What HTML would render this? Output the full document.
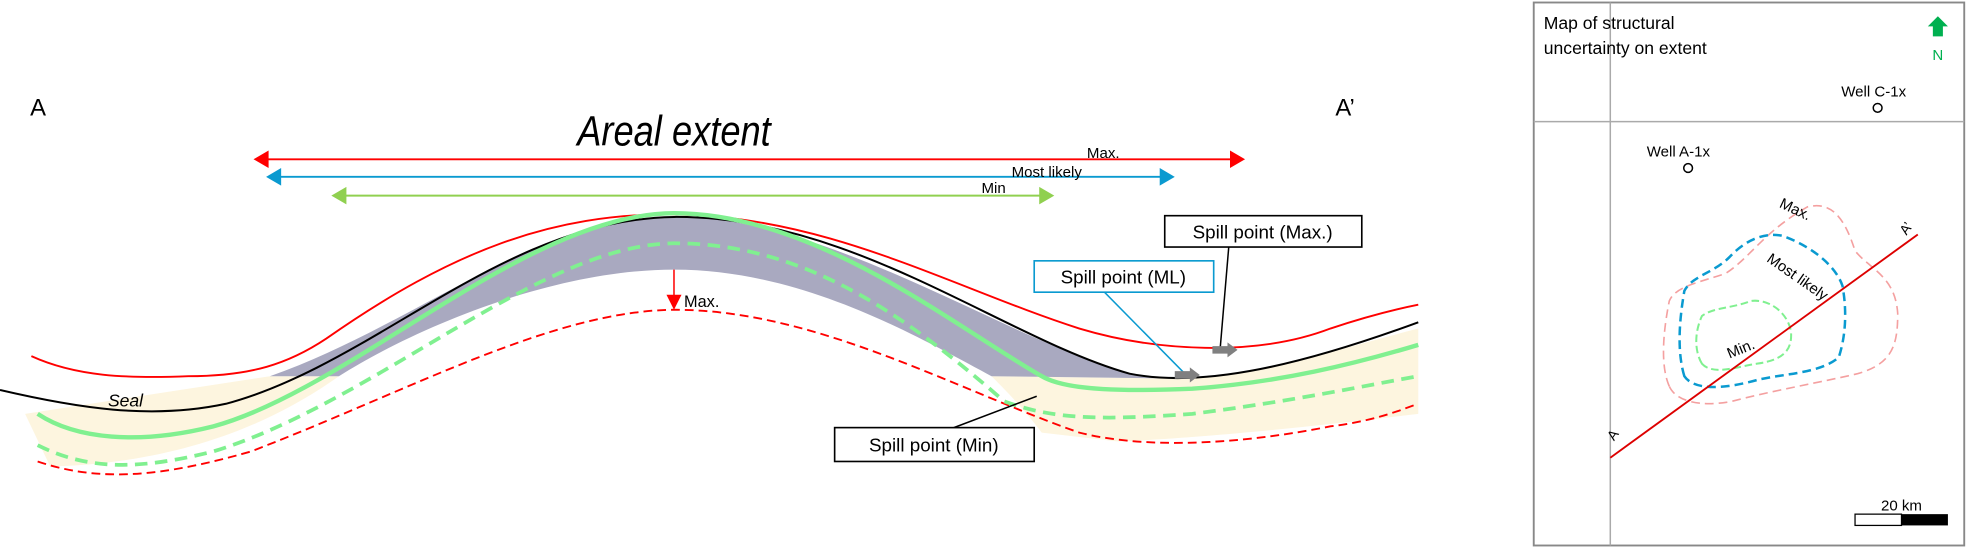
<!DOCTYPE html>
<html><head><meta charset="utf-8"><style>
html,body{margin:0;padding:0;background:#fff;}
svg{display:block;}
text{font-family:"Liberation Sans",sans-serif;}
</style></head><body>
<svg width="1968" height="548" viewBox="0 0 1568 437" preserveAspectRatio="none" xmlns="http://www.w3.org/2000/svg">
<defs>
<marker id="hr" markerWidth="8" markerHeight="8" refX="6" refY="4" orient="auto-start-reverse" markerUnits="userSpaceOnUse"><path d="M0,0 L8,4 L0,8 z" fill="#f00"/></marker>
</defs>
<text x="24" y="92" font-size="19">A</text>
<text x="1064" y="92" font-size="19">A’</text>
<text x="537" y="116" font-size="34" font-style="italic" text-anchor="middle" transform="translate(537,0) scale(0.85,1) translate(-537,0)">Areal extent</text>

<!-- fills -->
<path d="M20,330 L215,300 L270,300 C200,350 120,370 40,372 Z" fill="#fdf5df"/>
<path d="M790,300 L940,302 C1000,300 1060,280 1130,262 L1130,330 C1050,340 950,350 890,352 L830,345 C815,325 800,310 790,300 Z" fill="#fdf5df"/>
<path d="M215,300 C330,260 420,176 537,173 C660,172 800,270 900,298 C920,302 935,302 945,302 L790,300 C730,268 640,215 537,215 C440,215 330,262 270,300 Z" fill="#a9a9c0"/>

<!-- lines -->
<path d="M25,284 C60,300 100,302 150,300 C200,300 230,290 260,270 C360,200 440,170 537,171 C660,172 760,230 860,262 C920,280 1000,285 1060,262 C1090,252 1110,247 1130,243" fill="none" stroke="#f00" stroke-width="1.5"/>
<path d="M30,368 C80,385 130,380 200,360 C330,310 440,248 537,247 C650,247 760,310 860,345 C920,360 1000,352 1060,340 C1100,335 1120,325 1130,322" fill="none" stroke="#f00" stroke-width="1.5" stroke-dasharray="7,4"/>
<path d="M30,355 C70,375 110,375 170,360 C300,320 430,195 537,194 C640,194 720,250 800,320 C840,335 880,335 950,330 C1030,320 1090,307 1130,300" fill="none" stroke="#80f090" stroke-width="3" stroke-dasharray="10,6"/>
<path d="M0,311 C60,325 120,335 180,322 C300,290 400,175 537,173 C680,172 800,270 900,298 C960,310 1040,290 1130,257" fill="none" stroke="#000" stroke-width="1.6"/>
<path d="M30,330 C60,350 110,355 170,340 C280,310 420,170 537,170 C650,170 760,260 830,300 C850,312 900,312 950,310 C1020,305 1080,290 1130,275" fill="none" stroke="#80f090" stroke-width="3.5"/>

<!-- extent arrows -->
<line x1="210" y1="127" x2="984" y2="127" stroke="#f00" stroke-width="1.5"/>
<path d="M202,127 L214,120 L214,134 Z M992,127 L980,120 L980,134 Z" fill="#f00"/>
<line x1="220" y1="141" x2="928" y2="141" stroke="#0a9ad0" stroke-width="1.5"/>
<path d="M212,141 L224,134 L224,148 Z M936,141 L924,134 L924,148 Z" fill="#0a9ad0"/>
<line x1="272" y1="156" x2="832" y2="156" stroke="#90d050" stroke-width="1.5"/>
<path d="M264,156 L276,149 L276,163 Z M840,156 L828,149 L828,163 Z" fill="#90d050"/>
<text x="866" y="126" font-size="12">Max.</text>
<text x="806" y="141" font-size="12">Most likely</text>
<text x="782" y="154" font-size="12">Min</text>

<line x1="537" y1="215" x2="537" y2="238" stroke="#f00" stroke-width="1.2"/>
<path d="M531,235 L543,235 L537,247 Z" fill="#f00"/>
<text x="545" y="245" font-size="13">Max.</text>
<text x="86" y="324" font-size="14" font-style="italic">Seal</text>

<!-- spill boxes -->
<line x1="979" y1="197" x2="972" y2="280" stroke="#000" stroke-width="1.2"/>
<rect x="928" y="172" width="157" height="25" fill="#fff" stroke="#000" stroke-width="1.3"/>
<text x="1006" y="190" font-size="15" text-anchor="middle">Spill point (Max.)</text>
<line x1="880" y1="233" x2="945" y2="299" stroke="#0a9ad0" stroke-width="1.2"/>
<rect x="824" y="208" width="143" height="25" fill="#fff" stroke="#0a9ad0" stroke-width="1.3"/>
<text x="895" y="226" font-size="15" text-anchor="middle">Spill point (ML)</text>
<line x1="760" y1="341" x2="826" y2="316" stroke="#000" stroke-width="1.2"/>
<rect x="665" y="341" width="159" height="27" fill="#fff" stroke="#000" stroke-width="1.3"/>
<text x="744" y="360" font-size="15" text-anchor="middle">Spill point (Min)</text>
<path d="M966,276 L978,276 L978,273 L986,279 L978,285 L978,282 L966,282 Z" fill="#808080"/>
<path d="M936,296 L948,296 L948,293 L956,299 L948,305 L948,302 L936,302 Z" fill="#808080"/>

<!-- map panel -->
<rect x="1222" y="2" width="343" height="433" fill="#fff" stroke="#888" stroke-width="1.5"/>
<line x1="1222" y1="97" x2="1565" y2="97" stroke="#aaa" stroke-width="1.2"/>
<line x1="1283" y1="2" x2="1283" y2="435" stroke="#aaa" stroke-width="1.2"/>
<text x="1230" y="23" font-size="14">Map of structural</text>
<text x="1230" y="43" font-size="14">uncertainty on extent</text>
<path d="M1544,13 L1552,21 L1548,21 L1548,29 L1540,29 L1540,21 L1536,21 Z" fill="#00b050"/>
<text x="1544" y="48" font-size="12" fill="#00b050" text-anchor="middle">N</text>
<text x="1467" y="77" font-size="12">Well C-1x</text>
<circle cx="1496" cy="86" r="3.5" fill="none" stroke="#000" stroke-width="1.2"/>
<text x="1312" y="125" font-size="12">Well A-1x</text>
<circle cx="1345" cy="134" r="3.5" fill="none" stroke="#000" stroke-width="1.2"/>

<path d="M1330,308 C1322,290 1326,260 1330,240 C1335,228 1355,225 1375,218 C1395,205 1405,185 1440,165 C1460,160 1470,175 1478,200 C1490,215 1510,220 1512,250 C1512,275 1508,290 1480,298 C1450,305 1410,312 1380,320 C1355,325 1335,320 1330,308 Z" fill="none" stroke="#f4a0a0" stroke-width="1.3" stroke-dasharray="7,4"/>
<path d="M1342,300 C1336,280 1338,255 1342,232 C1348,220 1365,218 1378,205 C1390,192 1405,185 1420,188 C1440,195 1462,210 1468,228 C1472,250 1470,270 1465,285 C1450,298 1420,298 1400,303 C1375,310 1350,312 1342,300 Z" fill="none" stroke="#0a9ad0" stroke-width="2" stroke-dasharray="7,4"/>
<path d="M1356,290 C1350,280 1350,265 1356,252 C1365,245 1380,246 1395,240 C1410,238 1425,250 1427,265 C1428,280 1420,287 1400,290 C1385,292 1365,300 1356,290 Z" fill="none" stroke="#80f090" stroke-width="1.6" stroke-dasharray="6,3"/>
<line x1="1283" y1="365" x2="1528" y2="187" stroke="#d00" stroke-width="1.5"/>
<text x="0" y="0" font-size="11" transform="translate(1286,352) rotate(-55)">A</text>
<text x="0" y="0" font-size="11" transform="translate(1519,188) rotate(-55)">A’</text>
<text x="0" y="0" font-size="12" transform="translate(1417,165) rotate(25)">Max.</text>
<text x="0" y="0" font-size="12" transform="translate(1407,208) rotate(35)">Most likely</text>
<text x="0" y="0" font-size="12" transform="translate(1378,286) rotate(-22)">Min.</text>
<rect x="1478" y="410" width="37" height="9" fill="#fff" stroke="#000" stroke-width="1"/>
<rect x="1515" y="410" width="37" height="9" fill="#000"/>
<text x="1515" y="407" font-size="12" text-anchor="middle">20 km</text>
</svg>
</body></html>
